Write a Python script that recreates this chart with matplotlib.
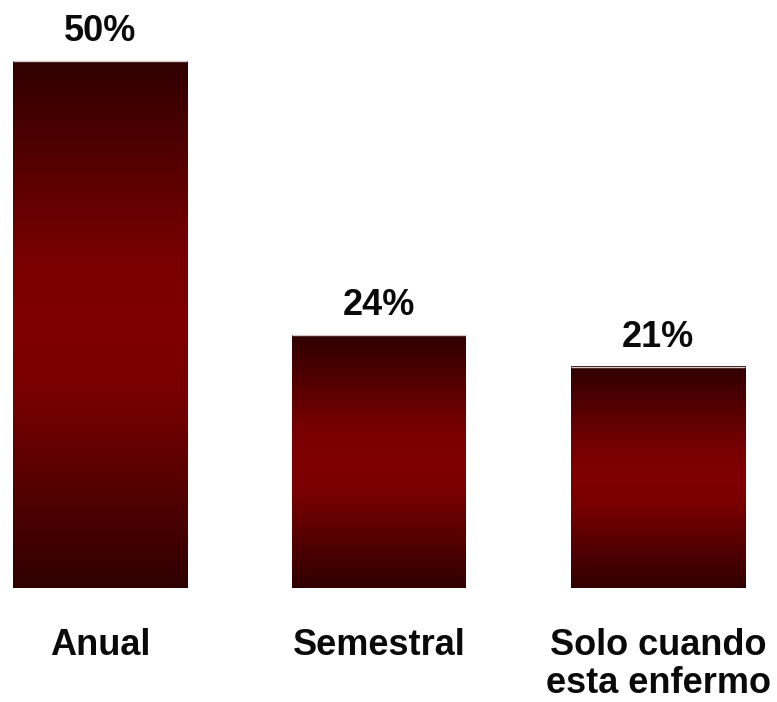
import numpy as np
import matplotlib
matplotlib.use("Agg")
import matplotlib.pyplot as plt
from matplotlib.colors import LinearSegmentedColormap

categories = ["Anual", "Semestral", "Solo cuando\nesta enfermo"]
values = [50, 24, 21]
value_labels = ["50%", "24%", "21%"]

W, H, DPI = 777, 702, 100
fig = plt.figure(figsize=(W / DPI, H / DPI), dpi=DPI)
fig.patch.set_facecolor("white")

base_px = 588
ax = fig.add_axes([0, (H - base_px) / H, 1, base_px / H])
xs = np.arange(len(categories))
ax.set_xlim(-100 / 279, (W - 100) / 279)
ax.set_ylim(0, base_px / 10.54)
ax.axis("off")

cmap = LinearSegmentedColormap.from_list(
    "grad", [(0.0, "#300000"), (0.38, "#7a0000"), (0.5, "#800000"),
             (0.62, "#7a0000"), (1.0, "#300000")])
grad = np.linspace(0, 1, 256).reshape(-1, 1)
width = 174 / 279

bars = ax.bar(xs, values, width=width, facecolor="none", edgecolor="none")
for b in bars:
    x0, y0 = b.get_x(), b.get_y()
    ax.imshow(grad, cmap=cmap, aspect="auto", interpolation="bilinear",
              extent=[x0, x0 + b.get_width(), y0, y0 + b.get_height()], zorder=2)
    ax.plot([x0, x0 + b.get_width()], [b.get_height()] * 2, color="#d8c8c8",
            lw=1.0, zorder=3, solid_capstyle="butt")

font = dict(family=["Liberation Sans", "DejaVu Sans"], fontweight="bold",
            fontsize=26, color="#0a0a0a")
for x, v, lab in zip(xs, values, value_labels):
    ax.annotate(lab, (x, v), xytext=(0, 14.5), textcoords="offset points",
                ha="center", va="baseline", **font)
for x, c in zip(xs, categories):
    ax.annotate(c, (x, 0), xytext=(0, -28.5), textcoords="offset points",
                ha="center", va="top", linespacing=1.12, **font)

fig.savefig("out.png", dpi=DPI, facecolor="white")
